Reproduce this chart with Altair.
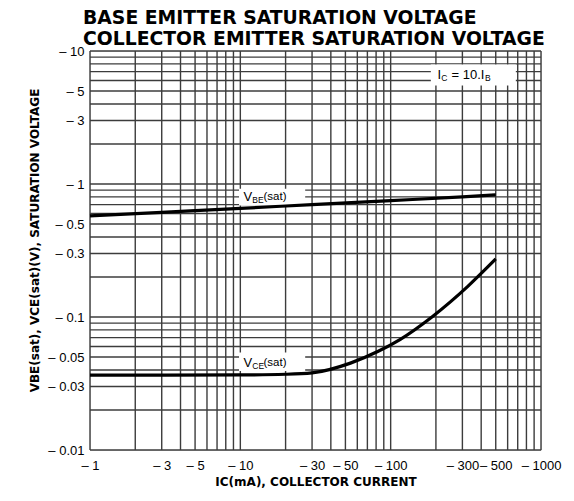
import altair as alt
import pandas as pd

# ---- data ----
ic_vbe = [1, 3, 10, 30, 100, 300, 500]
vbe = [0.575, 0.612, 0.655, 0.700, 0.750, 0.800, 0.830]

ic_vce = [1, 3, 10, 20, 30, 54, 82, 116, 190, 326, 500]
vce = [0.0366, 0.0366, 0.0367, 0.0371, 0.0380, 0.0450, 0.0550, 0.0680, 0.1010, 0.1700, 0.2730]

x_grid = [1, 2, 3, 4, 5, 6, 7, 8, 9, 10, 20, 30, 40, 50, 60, 70, 80, 90, 100,
          200, 300, 400, 500, 600, 700, 800, 900, 1000]
y_grid = [0.01, 0.02, 0.03, 0.04, 0.05, 0.06, 0.07, 0.08, 0.09, 0.1, 0.2, 0.3, 0.4,
          0.5, 0.6, 0.7, 0.8, 0.9, 1, 2, 3, 4, 5, 6, 7, 8, 9, 10]
x_ticks = [1, 3, 5, 10, 30, 50, 100, 300, 500, 1000]
y_ticks = [0.01, 0.03, 0.05, 0.1, 0.3, 0.5, 1, 3, 5, 10]

title_lines = ["BASE EMITTER SATURATION VOLTAGE", "COLLECTOR EMITTER SATURATION VOLTAGE"]
x_title = "IC(mA), COLLECTOR CURRENT"
y_title = "VBE(sat), VCE(sat)(V), SATURATION VOLTAGE"

# annotation anchor points (data coords) and their white boxes
ann_names = ["vbe", "vce", "ic"]
ann_x = [10.5, 10.5, 205]
ann_y = [0.80, 0.0450, 6.6]
box_x1 = [9.8, 9.8, 185]
box_x2 = [27, 27, 680]
box_y1 = [0.92, 0.054, 7.9]
box_y2 = [0.69, 0.0392, 5.5]

# ---- scales / axes ----
xs = alt.Scale(type="log", domain=[1, 1000], nice=False)
ys = alt.Scale(type="log", domain=[0.01, 10], nice=False)
lab_font = "Liberation Sans"
ttl_font = "DejaVu Sans"
x_axis = alt.Axis(values=x_ticks, format="~g", labelExpr="'– ' + datum.label",
                  title=x_title, grid=False, ticks=False, domain=False,
                  labelFont=lab_font, labelFontSize=13, labelColor="black",
                  labelPadding=9, titleFont=ttl_font, titleFontSize=12,
                  titleFontWeight="bold", titleColor="black", titlePadding=4,
                  labelFlush=False)
y_axis = alt.Axis(values=y_ticks, format="~g", labelExpr="'– ' + datum.label",
                  title=y_title, grid=False, ticks=False, domain=False,
                  labelFont=lab_font, labelFontSize=13, labelColor="black",
                  labelPadding=6, titleFont=ttl_font, titleFontSize=12,
                  titleFontWeight="bold", titleColor="black", titlePadding=6,
                  titleY=189, labelFlush=False)

grid_col = "#3c3c3c"
gx = alt.Chart(pd.DataFrame({"x": x_grid})).mark_rule(color=grid_col, strokeWidth=1.4).encode(
    x=alt.X("x:Q", scale=xs, axis=x_axis))
gy = alt.Chart(pd.DataFrame({"y": y_grid})).mark_rule(color=grid_col, strokeWidth=1.4).encode(
    y=alt.Y("y:Q", scale=ys, axis=y_axis))

boxes = alt.Chart(pd.DataFrame({"x": box_x1, "x2": box_x2, "y": box_y1, "y2": box_y2})).mark_rect(
    fill="white").encode(
    x=alt.X("x:Q", scale=xs, axis=x_axis), x2="x2:Q",
    y=alt.Y("y:Q", scale=ys, axis=y_axis), y2="y2:Q")

curves = pd.concat([
    pd.DataFrame({"x": ic_vbe, "y": vbe, "s": "VBE"}),
    pd.DataFrame({"x": ic_vce, "y": vce, "s": "VCE"}),
])
lines = alt.Chart(curves).mark_line(color="black", strokeWidth=3.2, interpolate="monotone").encode(
    x=alt.X("x:Q", scale=xs, axis=x_axis),
    y=alt.Y("y:Q", scale=ys, axis=y_axis),
    detail="s:N")

ann_df = pd.DataFrame({"name": ann_names, "x": ann_x, "y": ann_y})


def piece(name, text, size, dx, dy=0):
    d = ann_df[ann_df["name"] == name]
    return alt.Chart(d).mark_text(text=text, font=lab_font, fontSize=size, color="black",
                                  align="left", baseline="middle", dx=dx, dy=dy).encode(
        x=alt.X("x:Q", scale=xs, axis=x_axis),
        y=alt.Y("y:Q", scale=ys, axis=y_axis))


texts = [
    piece("vbe", "V", 13, 0), piece("vbe", "BE", 8.5, 8.8, 3), piece("vbe", "(sat)", 11.5, 20),
    piece("vce", "V", 13, 0), piece("vce", "CE", 8.5, 8.8, 3), piece("vce", "(sat)", 11.5, 20),
    piece("ic", "I", 13, 0), piece("ic", "C", 8.5, 3.8, 3), piece("ic", "= 10.I", 13, 14),
    piece("ic", "B", 8.5, 47.5, 3),
]

chart = alt.layer(gx, gy, boxes, lines, *texts).properties(
    width=451, height=399,
    autosize=alt.AutoSizeParams(type="none"),
    padding={"left": 82, "top": 43, "right": 25, "bottom": 43},
    title=alt.TitleParams(text=title_lines, anchor="start", frame="group", font=ttl_font,
                          fontSize=18.8, fontWeight="bold", color="black", dx=-7, dy=7,
                          offset=3, lineHeight=21.5),
).configure_view(stroke="black", strokeWidth=3).configure(background="white")

chart.save("out.html", embed_options={"renderer": "svg", "actions": False})
